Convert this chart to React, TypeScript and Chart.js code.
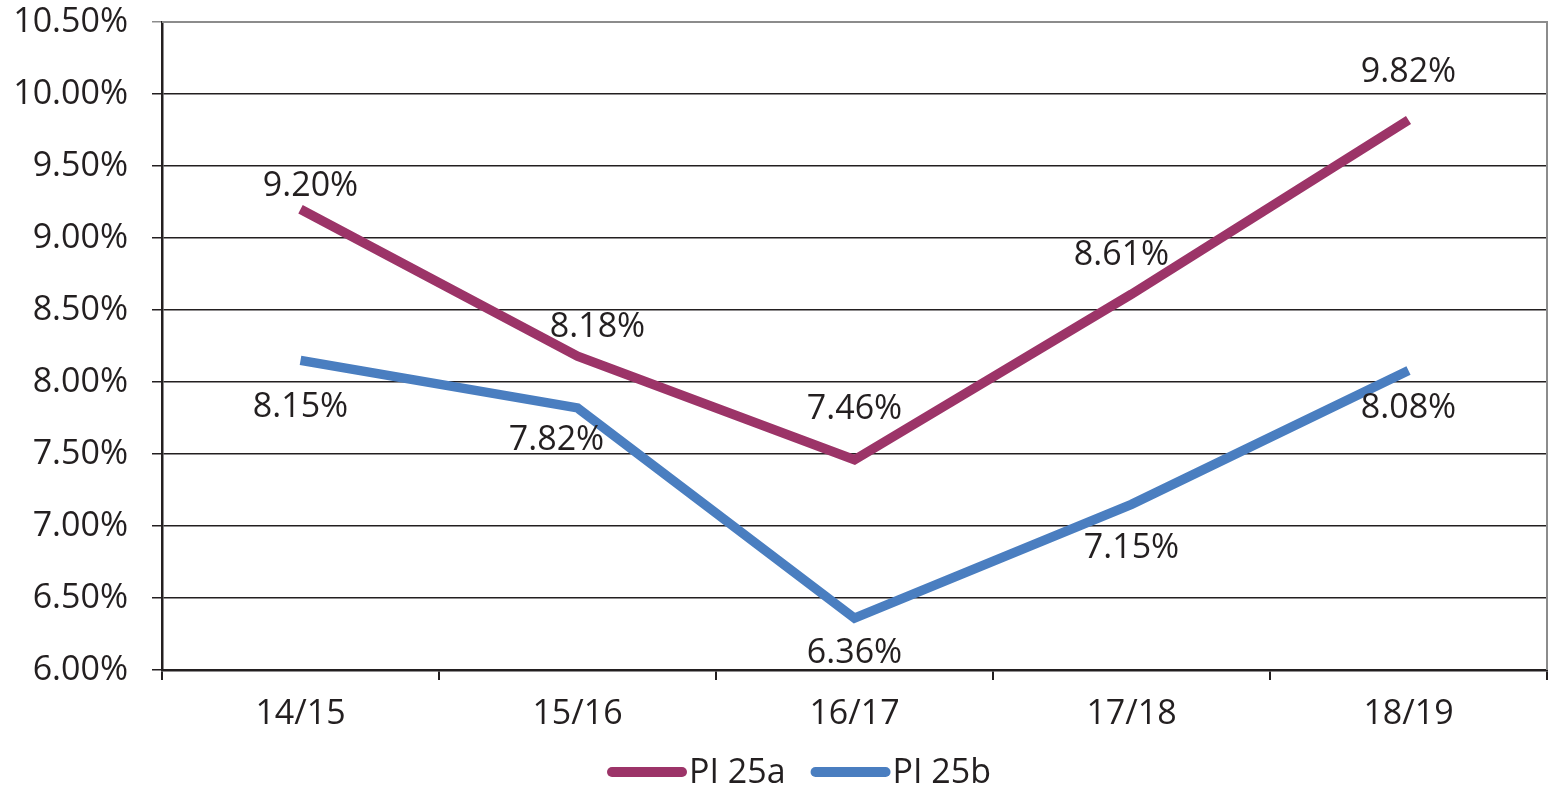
import React, { useEffect, useRef } from "react";
import { Chart, registerables } from "chart.js";

Chart.register(...registerables);

const categories = ["14/15", "15/16", "16/17", "17/18", "18/19"];
const seriesNames = ["PI 25a", "PI 25b"];
const pi25a = [9.2, 8.18, 7.46, 8.61, 9.82];
const pi25b = [8.15, 7.82, 6.36, 7.15, 8.08];
const yTicks = [6.0, 6.5, 7.0, 7.5, 8.0, 8.5, 9.0, 9.5, 10.0, 10.5];

const colors = ["#9C3468", "#4A7EC0"];
// label offsets relative to each point (style only)
const labelOffsets = [
  [[10, -23], [20, -29], [0, -50], [-10, -39], [0, -48]],
  [[0, 47], [-21, 32], [0, 35], [0, 44], [0, 38]],
];

const FONT = "'Open Sans', 'Noto Sans', sans-serif";
const FS = 34;

const dataLabelPlugin = {
  id: "dataLabels",
  afterDatasetsDraw(chart: any) {
    const ctx = chart.ctx;
    ctx.save();
    ctx.font = `${FS}px ${FONT}`;
    ctx.fillStyle = "#231F20";
    ctx.textAlign = "center";
    ctx.textBaseline = "middle";
    chart.data.datasets.forEach((ds: any, di: number) => {
      const meta = chart.getDatasetMeta(di);
      meta.data.forEach((pt: any, i: number) => {
        const v = ds.data[i];
        const [dx, dy] = labelOffsets[di][i];
        ctx.fillText(v.toFixed(2) + "%", pt.x + dx, pt.y + dy);
      });
    });
    ctx.restore();
  },
};

const framePlugin = {
  id: "frame",
  beforeDatasetsDraw(chart: any) {
    const { ctx, chartArea } = chart;
    ctx.save();
    ctx.strokeStyle = "#8C8C8C";
    ctx.lineWidth = 2;
    ctx.beginPath();
    ctx.moveTo(chartArea.left, chartArea.top);
    ctx.lineTo(chartArea.right, chartArea.top);
    ctx.lineTo(chartArea.right, chartArea.bottom);
    ctx.stroke();
    ctx.restore();
  },
};

const legendPlugin = {
  id: "customLegend",
  afterDraw(chart: any) {
    const ctx = chart.ctx;
    ctx.save();
    ctx.font = `${FS}px ${FONT}`;
    ctx.textBaseline = "middle";
    const lineW = 80;
    const gap = 2;
    const itemGap = 25;
    const items = chart.data.datasets.map((ds: any) => ({
      label: ds.label,
      color: ds.borderColor,
      w: lineW + gap + ctx.measureText(ds.label).width,
    }));
    const total = items.reduce((s: number, it: any) => s + it.w, 0) + itemGap * (items.length - 1);
    let x = chart.width / 2 - total / 2 + 24;
    const y = 772;
    items.forEach((it: any) => {
      ctx.strokeStyle = it.color;
      ctx.lineWidth = 10;
      ctx.lineCap = "round";
      ctx.beginPath();
      ctx.moveTo(x + 5, y);
      ctx.lineTo(x + lineW - 5, y);
      ctx.stroke();
      ctx.fillStyle = "#231F20";
      ctx.textAlign = "left";
      ctx.fillText(it.label, x + lineW + gap, y + 1);
      x += it.w + itemGap;
    });
    ctx.restore();
  },
};

export default function App() {
  const ref = useRef<HTMLCanvasElement>(null);
  useEffect(() => {
    if (!ref.current) return;
    const chart = new Chart(ref.current, {
      type: "line",
      data: {
        labels: categories,
        datasets: [
          {
            label: seriesNames[0],
            data: pi25a,
            borderColor: colors[0],
            backgroundColor: colors[0],
            borderWidth: 9.5,
            pointRadius: 0,
            tension: 0,
            borderJoinStyle: "miter",
          },
          {
            label: seriesNames[1],
            data: pi25b,
            borderColor: colors[1],
            backgroundColor: colors[1],
            borderWidth: 9.5,
            pointRadius: 0,
            tension: 0,
            borderJoinStyle: "miter",
          },
        ],
      },
      options: {
        animation: false,
        responsive: false,
        layout: { padding: { top: 22, right: 3, bottom: 56, left: 0 } },
        plugins: {
          legend: { display: false },
          tooltip: { enabled: false },
          title: { display: false },
        },
        scales: {
          x: {
            offset: true,
            afterFit: (scale: any) => {
              scale.height = 62;
              scale.paddingLeft = 0;
              scale.paddingRight = 0;
            },
            grid: {
              offset: true,
              drawOnChartArea: false,
              drawTicks: true,
              tickLength: 10,
              color: "#231F20",
              lineWidth: 2,
            },
            border: { color: "#231F20", width: 2.5 },
            ticks: {
              padding: 14,
              color: "#231F20",
              font: { family: FONT, size: FS },
              maxRotation: 0,
            },
          },
          y: {
            min: 6,
            max: 10.5,
            afterFit: (scale: any) => {
              scale.width = 162;
              scale.paddingTop = 0;
              scale.paddingBottom = 0;
            },
            afterBuildTicks: (scale: any) => {
              scale.ticks = yTicks.map((v) => ({ value: v }));
            },
            grid: {
              color: (c: any) => (c.tick && c.tick.value === 10.5 ? "#8C8C8C" : "#231F20"),
              lineWidth: 1.5,
              tickLength: 10,
            },
            border: { color: "#231F20", width: 2.5 },
            ticks: {
              padding: 24,
              color: "#231F20",
              font: { family: FONT, size: FS },
              callback: (v: any) => Number(v).toFixed(2) + "%",
            },
          },
        },
      },
      plugins: [framePlugin, dataLabelPlugin, legendPlugin],
    } as any);
    return () => chart.destroy();
  }, []);
  return (
    <div style={{ position: "fixed", left: 0, top: 0, width: 1550, height: 788, background: "#fff" }}>
      <canvas ref={ref} width={1550} height={788} style={{ display: "block" }} />
    </div>
  );
}
